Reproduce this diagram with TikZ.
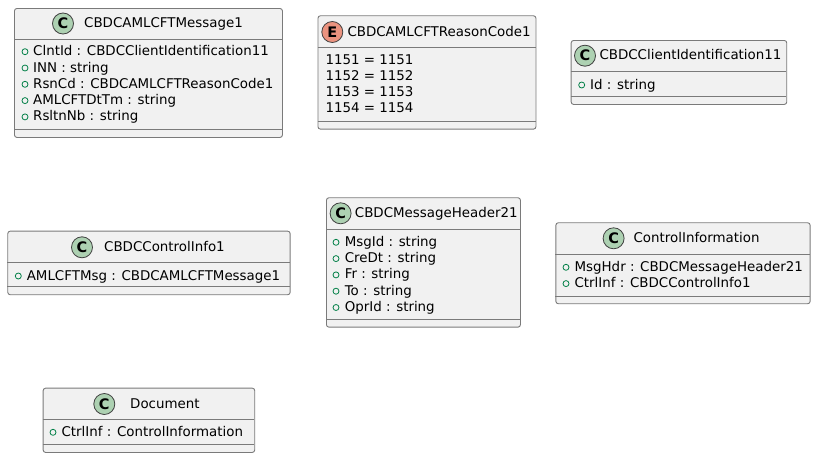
\documentclass[tikz,border=0pt]{standalone}
\usepackage{fontspec}
\setmainfont{DejaVu Sans}
\definecolor{boxfill}{HTML}{F1F1F1}
\definecolor{boxline}{HTML}{7A7A7A}
\definecolor{classspot}{HTML}{ADD1B2}
\definecolor{enumspot}{HTML}{EB937F}
\definecolor{pubgreen}{HTML}{038048}
\begin{document}
\begin{tikzpicture}[x=1pt, y=-1pt,
	classbox/.style={draw=boxline, fill=boxfill, line width=.9pt, rounded corners=2.5pt, anchor=north west, inner sep=0pt},
	divider/.style={draw=boxline, line width=.9pt},
	spot/.style={circle, draw=black!75, line width=.8pt, minimum size=21pt, inner sep=0pt, font=\fontsize{14.5}{14.5}\selectfont\bfseries},
	classname/.style={anchor=west, inner sep=0pt, text height=10.8pt, text depth=2.8pt, font=\fontsize{13.4}{16}\selectfont},
	member/.style={classname},
	pub/.style={circle, draw=pubgreen, line width=.8pt, minimum size=6pt, inner sep=0pt}]
	\useasboundingbox (0,0) rectangle (813,458);
	% CBDCAMLCFTMessage1
	\node[classbox, minimum width=268pt, minimum height=129pt] (msg) at (14,8) {};
	\draw[divider] (14,39.5) -- (282,39.5) (14,129.3) -- (282,129.3);
	\node[spot, fill=classspot] (msg-spot) at (63,23.5) {C};
	\node[classname] (msg-name) at (84,23.5) {CBDCAMLCFTMessage1};
	\node[pub] (msg-p1) at (25,51.7) {};
	\node[member] (msg-f1) at (33,51.7) {ClntId : CBDCClientIdentification11};
	\node[pub] (msg-p2) at (25,68) {};
	\node[member] (msg-f2) at (33,68) {INN : string};
	\node[pub] (msg-p3) at (25,84.3) {};
	\node[member] (msg-f3) at (33,84.3) {RsnCd : CBDCAMLCFTReasonCode1};
	\node[pub] (msg-p4) at (25,100.6) {};
	\node[member] (msg-f4) at (33,100.6) {AMLCFTDtTm : string};
	\node[pub] (msg-p5) at (25,116.9) {};
	\node[member] (msg-f5) at (33,116.9) {RsltnNb : string};
	% CBDCAMLCFTReasonCode1
	\node[classbox, minimum width=218pt, minimum height=113.4pt] (reason) at (317.5,15.3) {};
	\draw[divider] (317.5,47.3) -- (535.5,47.3) (317.5,121.3) -- (535.5,121.3);
	\node[spot, fill=enumspot] (reason-spot) at (332.3,32) {E};
	\node[classname] (reason-name) at (347.3,32) {CBDCAMLCFTReasonCode1};
	\node[member] (reason-v1) at (325.3,60) {1151 = 1151};
	\node[member] (reason-v2) at (325.3,76.3) {1152 = 1152};
	\node[member] (reason-v3) at (325.3,92.6) {1153 = 1153};
	\node[member] (reason-v4) at (325.3,108.9) {1154 = 1154};
	% CBDCClientIdentification11
	\node[classbox, minimum width=215.6pt, minimum height=64pt] (client) at (570.7,40) {};
	\draw[divider] (570.7,71.3) -- (786.3,71.3) (570.7,96.7) -- (786.3,96.7);
	\node[spot, fill=classspot] (client-spot) at (585,55.7) {C};
	\node[classname] (client-name) at (599.3,55.7) {CBDCClientIdentification11};
	\node[pub] (client-p1) at (581.7,85) {};
	\node[member] (client-f1) at (590,85) {Id : string};
	% CBDCControlInfo1
	\node[classbox, minimum width=282.4pt, minimum height=63.6pt] (ctrlinfo) at (7.3,230.7) {};
	\draw[divider] (7.3,262) -- (289.7,262) (7.3,286.7) -- (289.7,286.7);
	\node[spot, fill=classspot] (ctrlinfo-spot) at (82,247.3) {C};
	\node[classname] (ctrlinfo-name) at (104,247.3) {CBDCControlInfo1};
	\node[pub] (ctrlinfo-p1) at (18.3,276) {};
	\node[member] (ctrlinfo-f1) at (26.6,276) {AMLCFTMsg : CBDCAMLCFTMessage1};
	% CBDCMessageHeader21
	\node[classbox, minimum width=194pt, minimum height=129.4pt] (header) at (326,197.3) {};
	\draw[divider] (326,229.3) -- (520,229.3) (326,319.3) -- (520,319.3);
	\node[spot, fill=classspot] (header-spot) at (340.6,213.3) {C};
	\node[classname] (header-name) at (354.7,213.3) {CBDCMessageHeader21};
	\node[pub] (header-p1) at (336,242.3) {};
	\node[member] (header-f1) at (344.6,242.3) {MsgId : string};
	\node[pub] (header-p2) at (336,258.6) {};
	\node[member] (header-f2) at (344.6,258.6) {CreDt : string};
	\node[pub] (header-p3) at (336,274.9) {};
	\node[member] (header-f3) at (344.6,274.9) {Fr : string};
	\node[pub] (header-p4) at (336,291.2) {};
	\node[member] (header-f4) at (344.6,291.2) {To : string};
	\node[pub] (header-p5) at (336,307.5) {};
	\node[member] (header-f5) at (344.6,307.5) {OprId : string};
	% ControlInformation
	\node[classbox, minimum width=254.3pt, minimum height=81pt] (ctrlinformation) at (555.4,222.3) {};
	\draw[divider] (555.4,254.3) -- (809.7,254.3) (555.4,296) -- (809.7,296);
	\node[spot, fill=classspot] (ctrlinformation-spot) at (613.6,238.3) {C};
	\node[classname] (ctrlinformation-name) at (633.4,238.3) {ControlInformation};
	\node[pub] (ctrlinformation-p1) at (566,267.3) {};
	\node[member] (ctrlinformation-f1) at (574.4,267.3) {MsgHdr : CBDCMessageHeader21};
	\node[pub] (ctrlinformation-p2) at (566,283.6) {};
	\node[member] (ctrlinformation-f2) at (574.4,283.6) {CtrlInf : CBDCControlInfo1};
	% Document
	\node[classbox, minimum width=211.6pt, minimum height=64.3pt] (doc) at (42.7,387.7) {};
	\draw[divider] (42.7,419.3) -- (254.3,419.3) (42.7,444.7) -- (254.3,444.7);
	\node[spot, fill=classspot] (doc-spot) at (104.3,404) {C};
	\node[classname] (doc-name) at (130,404) {Document};
	\node[pub] (doc-p1) at (53,432.3) {};
	\node[member] (doc-f1) at (61.4,432.3) {CtrlInf : ControlInformation};
\end{tikzpicture}
\end{document}
